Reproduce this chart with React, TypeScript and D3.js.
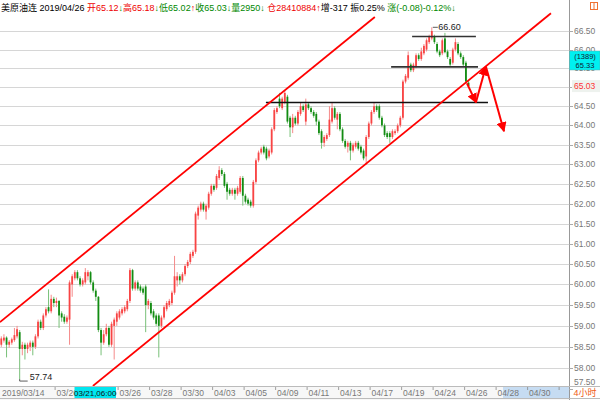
import React from 'react';
import * as d3 from 'd3';

const W = 600;
const H = 400;

// 4-hour bars: [open, high, low, close]
const ohlc: [number, number, number, number][] = [
  // 0
  [58.55, 58.75, 58.5, 58.7], [58.65, 58.8, 58.6, 58.72], [58.72, 58.75, 58.25, 58.55], [58.55, 58.66, 58.48, 58.62], [58.6, 58.72, 58.55, 58.68],
  [58.66, 58.95, 58.62, 58.78], [58.75, 59.0, 58.7, 58.92], [58.85, 58.9, 57.74, 58.45], [58.45, 58.62, 58.3, 58.55], [58.55, 58.6, 58.2, 58.45],
  // 10
  [58.45, 58.6, 58.35, 58.55], [58.5, 58.65, 58.4, 58.6], [58.6, 58.65, 58.3, 58.5], [58.5, 58.8, 58.45, 58.75], [58.75, 59.15, 58.7, 59.1],
  [59.1, 59.15, 58.9, 58.95], [58.95, 59.3, 58.9, 59.25], [59.25, 59.45, 59.2, 59.4], [59.45, 59.88, 59.3, 59.35], [59.35, 59.75, 59.3, 59.65],
  // 20
  [59.65, 59.7, 59.45, 59.55], [59.55, 59.68, 59.45, 59.6], [59.6, 59.62, 58.95, 59.25], [59.3, 59.35, 59.1, 59.2], [59.22, 59.28, 59.05, 59.1],
  [59.1, 59.25, 59.05, 59.2], [59.15, 60.1, 58.55, 60.05], [60.0, 60.25, 59.7, 60.2], [60.15, 60.35, 60.1, 60.3], [60.3, 60.35, 60.1, 60.15],
  // 30
  [60.15, 60.2, 59.95, 60.0], [60.0, 60.15, 59.95, 60.1], [60.05, 60.4, 60.0, 60.3], [60.2, 60.35, 60.1, 60.3], [60.3, 60.33, 60.0, 60.05],
  [60.05, 60.1, 59.8, 59.85], [59.85, 59.9, 59.6, 59.7], [59.7, 59.72, 58.85, 58.9], [58.9, 58.95, 58.3, 58.6], [58.6, 58.9, 58.55, 58.8],
  // 40
  [58.8, 59.05, 58.75, 58.95], [58.95, 59.0, 58.5, 58.55], [58.55, 59.1, 58.5, 59.05], [59.0, 59.2, 58.2, 59.15], [59.1, 59.35, 59.0, 59.3],
  [59.2, 59.4, 59.15, 59.35], [59.3, 59.45, 59.25, 59.4], [59.35, 59.5, 59.3, 59.45], [59.4, 59.65, 59.35, 59.6], [59.6, 60.4, 59.55, 60.35],
  // 50
  [60.35, 60.38, 59.85, 59.9], [59.9, 60.1, 59.85, 60.05], [60.05, 60.1, 59.85, 59.9], [59.95, 60.0, 59.8, 59.85], [59.9, 59.95, 59.75, 59.8],
  [59.95, 60.0, 58.85, 59.5], [59.5, 59.65, 59.4, 59.6], [59.55, 59.6, 59.25, 59.3], [59.35, 59.4, 59.15, 59.2], [59.25, 59.3, 59.0, 59.05],
  // 60
  [59.25, 59.3, 58.25, 59.0], [59.0, 59.25, 58.95, 59.2], [59.2, 59.5, 59.15, 59.45], [59.4, 59.6, 59.35, 59.55], [59.5, 59.65, 59.45, 59.6],
  [59.55, 59.85, 59.5, 59.8], [59.8, 60.7, 59.75, 60.2], [60.1, 60.3, 59.95, 60.2], [60.2, 60.25, 60.0, 60.1], [60.1, 60.3, 60.05, 60.25],
  // 70
  [60.25, 60.5, 60.2, 60.45], [60.45, 60.6, 60.4, 60.55], [60.55, 60.8, 60.5, 60.75], [60.7, 60.85, 60.65, 60.8], [60.8, 61.8, 60.75, 61.75],
  [61.7, 61.95, 61.6, 61.9], [61.85, 62.05, 61.8, 62.0], [62.0, 62.05, 61.8, 61.85], [61.8, 62.0, 61.6, 61.95], [61.9, 62.3, 61.85, 62.25],
  // 80
  [62.25, 62.5, 62.2, 62.45], [62.45, 62.5, 62.3, 62.35], [62.4, 62.75, 62.35, 62.7], [62.65, 62.95, 62.6, 62.85], [62.85, 62.9, 62.7, 62.75],
  [62.75, 62.8, 62.4, 62.45], [62.5, 62.55, 62.1, 62.3], [62.35, 62.4, 62.2, 62.25], [62.25, 62.4, 62.2, 62.35], [62.35, 62.4, 62.1, 62.25],
  // 90
  [62.25, 62.45, 62.2, 62.4], [62.3, 62.7, 62.25, 62.65], [62.65, 62.7, 61.95, 62.2], [62.2, 62.25, 62.0, 62.05], [62.1, 62.15, 61.95, 62.0],
  [62.05, 62.1, 61.9, 61.95], [61.95, 62.6, 61.9, 62.55], [62.55, 63.15, 62.5, 63.1], [63.1, 63.35, 63.05, 63.3], [63.3, 63.45, 63.25, 63.4],
  // 100
  [63.45, 63.5, 63.25, 63.3], [63.4, 63.45, 63.1, 63.15], [63.2, 63.4, 63.15, 63.35], [63.3, 63.95, 63.25, 63.9], [63.9, 64.45, 63.85, 64.4],
  [64.35, 64.5, 64.3, 64.45], [64.7, 64.85, 64.45, 64.5], [64.45, 64.75, 64.4, 64.7], [64.6, 64.9, 64.55, 64.85], [64.75, 64.8, 64.05, 64.1],
  // 110
  [64.2, 64.25, 63.7, 63.95], [63.95, 64.3, 63.8, 64.2], [64.2, 64.25, 64.0, 64.05], [64.05, 64.4, 64.0, 64.35], [64.3, 64.6, 64.25, 64.5],
  [64.5, 64.55, 64.35, 64.4], [64.1, 64.7, 64.0, 64.55], [64.55, 64.6, 64.4, 64.45], [64.45, 64.5, 64.3, 64.35], [64.35, 64.4, 64.2, 64.25],
  // 120
  [64.3, 64.35, 64.0, 64.1], [64.1, 64.15, 63.75, 63.8], [63.85, 63.9, 63.4, 63.55], [63.55, 63.75, 63.45, 63.7], [63.65, 63.8, 63.6, 63.75],
  [63.75, 64.5, 63.7, 64.15], [64.1, 64.6, 64.05, 64.45], [64.45, 64.5, 64.15, 64.2], [64.15, 64.35, 63.9, 64.3], [64.3, 64.35, 63.85, 63.9],
  // 130
  [63.9, 63.95, 63.55, 63.6], [63.6, 63.65, 63.4, 63.45], [63.45, 63.6, 63.3, 63.55], [63.55, 63.6, 63.1, 63.35], [63.35, 63.55, 63.3, 63.5],
  [63.45, 63.6, 63.4, 63.55], [63.55, 63.6, 63.35, 63.4], [63.45, 63.5, 63.25, 63.3], [63.35, 63.4, 63.1, 63.15], [63.2, 63.75, 62.98, 63.7],
  // 140
  [63.7, 64.1, 63.65, 64.05], [64.05, 64.4, 64.0, 64.35], [64.35, 64.6, 64.3, 64.5], [64.5, 64.55, 64.35, 64.4], [64.5, 64.55, 64.15, 64.2],
  [64.2, 64.25, 63.95, 64.0], [64.0, 64.05, 63.7, 63.75], [63.8, 63.85, 63.65, 63.7], [63.8, 63.85, 63.55, 63.7], [63.7, 63.9, 63.65, 63.85],
  // 150
  [63.8, 63.9, 63.75, 63.85], [63.85, 64.05, 63.8, 64.0], [64.0, 64.25, 63.95, 64.2], [64.2, 65.2, 64.15, 65.15], [65.15, 65.35, 65.1, 65.3],
  [65.25, 65.95, 65.2, 65.85], [65.6, 65.65, 65.4, 65.45], [65.45, 65.65, 65.4, 65.6], [65.55, 65.9, 65.5, 65.85], [65.85, 65.9, 65.7, 65.75],
  // 160
  [65.75, 66.05, 65.7, 65.95], [65.9, 66.15, 65.85, 66.1], [66.0, 66.3, 65.95, 66.25], [66.2, 66.4, 66.15, 66.35], [66.3, 66.6, 66.25, 66.5],
  [66.35, 66.4, 66.15, 66.2], [66.15, 66.2, 65.9, 65.95], [65.95, 66.0, 65.8, 65.85], [65.9, 66.3, 65.85, 66.25], [66.3, 66.45, 65.9, 65.93],
  // 170
  [65.95, 66.0, 65.75, 65.8], [65.75, 65.8, 65.55, 65.6], [65.65, 66.05, 65.6, 66.0], [66.0, 66.3, 65.95, 66.2], [66.15, 66.2, 65.85, 65.9],
  [65.9, 65.95, 65.75, 65.8], [65.8, 65.85, 65.55, 65.6], [65.65, 65.7, 65.1, 65.15], [65.12, 65.18, 65.02, 65.03],
];

const priceTicks = [57.5, 58, 58.5, 59, 59.5, 60, 60.5, 61, 61.5, 62, 62.5, 63, 63.5, 64, 64.5, 65, 65.5, 66, 66.5];
const firstDateLabel = '2019/03/14';
const dateTickLabels = ['03/20', '03/22', '03/26', '03/28', '03/30', '04/03', '04/05', '04/09', '04/11', '04/13', '04/17', '04/19', '04/24', '04/26', '04/28', '04/30', ''];
const crossDateLabel = '03/21,06:00';
const crossPriceLabels = ['(1389)', '65.33'];
const periodLabel = '4小时';

// hand-drawn annotations in (bar index, price)
const channelUpper = [{ i: -0.5, p: 59.09 }, { i: 142.3, p: 66.88 }];
const channelLower = [{ i: 34.9, p: 57.58 }, { i: 209.4, p: 66.98 }];
const levelLines = [
  { p: 66.35, i0: 156.5, i1: 180.8, color: '#333' },
  { p: 65.54, i0: 148.5, i1: 181.6, color: '#333' },
  { p: 64.6, i0: 100.8, i1: 185.4, color: '#111' },
];
const arrowPath = [{ i: 177.4, p: 65.1 }, { i: 180.8, p: 64.6 }, { i: 184.6, p: 65.55 }, { i: 191.5, p: 63.85 }];

// header segments
const header: { t: string; c: string }[] = [
  { t: '美原油连 2019/04/26 ', c: '#000' },
  { t: '开65.12', c: '#e00' }, { t: '↓', c: '#080' },
  { t: '高65.18', c: '#e00' }, { t: '↓', c: '#080' },
  { t: '低65.02', c: '#080' }, { t: '↑', c: '#e00' },
  { t: '收65.03', c: '#080' }, { t: '↓', c: '#080' },
  { t: '量2950', c: '#080' }, { t: '↓ ', c: '#080' },
  { t: '仓28410884', c: '#e00' }, { t: '↑', c: '#e00' },
  { t: '增-317 振0.25% ', c: '#000' },
  { t: '涨(-0.08)-0.12%', c: '#080' }, { t: '↓', c: '#080' },
];

const FONT = "'Liberation Sans', Arial, 'Noto Sans CJK SC', sans-serif";

export default function App() {
  const plotRight = 569;
  const axisTop = 386;
  const x = d3.scaleLinear().domain([0, 216]).range([1.3, 568.3]);
  const y = d3.scaleLog().domain([66.5, 58]).range([31, 368]);
  const slot = x(1) - x(0);
  const bodyW = 1.8;
  const upC = '#f84444';
  const upW = '#f58a8a';
  const dnC = '#128c12';
  const dnW = '#78c078';

  const hiIdx = d3.maxIndex(ohlc, (d) => d[1]);
  const loIdx = d3.minIndex(ohlc, (d) => d[2]);
  const last = ohlc[ohlc.length - 1];

  const ln = d3.line<{ i: number; p: number }>().x((d) => x(d.i)).y((d) => y(d.p));

  // cross boxes (cursor read-outs)
  const pBox = { x: 569.5, y: 51, w: 30.5, h: 19 };
  const dBox = { x: 74.5, w: 41.5 };

  return (
    <svg width={W} height={H} style={{ position: 'absolute', left: 0, top: 0, background: '#fff' }} fontFamily={FONT}>
      <defs>
        <clipPath id="plot">
          <rect x={0} y={0} width={plotRight} height={axisTop} />
        </clipPath>
        <marker id="ah" viewBox="0 0 10 10" refX="9" refY="5" markerWidth="5" markerHeight="5" orient="auto" markerUnits="strokeWidth">
          <path d="M0,0 L10,5 L0,10 z" fill="#f00" />
        </marker>
      </defs>
      <rect x={0} y={0} width={W} height={H} fill="#fff" />
      {/* grid */}
      <g clipPath="url(#plot)">
        {priceTicks.map((t) => (
          <line key={t} x1={0} x2={plotRight} y1={Math.round(y(t)) + 0.5} y2={Math.round(y(t)) + 0.5} stroke="#d6d6d6" strokeWidth={1} />
        ))}
      </g>
      {/* candles */}
      <g clipPath="url(#plot)">
        {ohlc.map((d, i) => {
          const [o, h, l, c] = d;
          const up = c >= o;
          const col = up ? upC : dnC;
          const cx = x(i);
          const yTop = y(Math.max(o, c));
          const yBot = y(Math.min(o, c));
          return (
            <g key={i}>
              <line x1={cx} x2={cx} y1={y(h)} y2={y(l)} stroke={up ? upW : dnW} strokeWidth={1} />
              <rect x={cx - bodyW / 2} y={yTop} width={bodyW} height={Math.max(0.8, yBot - yTop)} fill={col} />
            </g>
          );
        })}
      </g>
      {/* level lines */}
      {levelLines.map((L, k) => (
        <line key={k} x1={x(L.i0)} x2={x(L.i1)} y1={y(L.p)} y2={y(L.p)} stroke={L.color} strokeWidth={1.6} />
      ))}
      {/* channel lines */}
      <g clipPath="url(#plot)">
        <path d={ln(channelUpper) || ''} stroke="#f00" strokeWidth={1.8} fill="none" />
        <path d={ln(channelLower) || ''} stroke="#f00" strokeWidth={1.8} fill="none" />
      </g>
      {/* arrows */}
      {arrowPath.slice(1).map((p, k) => (
        <line key={k} x1={x(arrowPath[k].i)} y1={y(arrowPath[k].p)} x2={x(p.i)} y2={y(p.p)} stroke="#f00" strokeWidth={2} markerEnd="url(#ah)" />
      ))}
      {/* high / low labels */}
      <line x1={x(hiIdx) + 1} x2={x(hiIdx) + 6} y1={y(ohlc[hiIdx][1])} y2={y(ohlc[hiIdx][1])} stroke="#333" strokeWidth={0.8} />
      <text x={x(hiIdx) + 6.5} y={y(ohlc[hiIdx][1]) + 3} fontSize={9} fill="#222">{ohlc[hiIdx][1].toFixed(2)}</text>
      <path d={`M${x(loIdx)},${y(ohlc[loIdx][2])} V${y(ohlc[loIdx][2]) + 2} H${x(loIdx) + 8}`} stroke="#333" strokeWidth={0.8} fill="none" />
      <text x={x(loIdx) + 10} y={y(ohlc[loIdx][2]) + 1} fontSize={9} fill="#222">{ohlc[loIdx][2].toFixed(2)}</text>

      {/* right axis */}
      <line x1={plotRight + 0.5} x2={plotRight + 0.5} y1={0} y2={H} stroke="#999" />
      {priceTicks.map((t) => {
        const yy = Math.min(y(t), 382);
        const hidden = yy - 3 > pBox.y && yy + 3 < pBox.y + pBox.h;
        return (
          <g key={t}>
            <line x1={plotRight} x2={plotRight + 4} y1={Math.round(y(t)) + 0.5} y2={Math.round(y(t)) + 0.5} stroke="#aaa" />
            {!hidden && <text x={574} y={yy + 3} fontSize={8.5} fill="#777">{t.toFixed(2)}</text>}
          </g>
        );
      })}
      {/* last price */}
      <rect x={572} y={y(last[3]) - 6} width={28} height={12} fill="#eef2ee" />
      <text x={574} y={y(last[3]) + 3} fontSize={8.5} fill="#f33">{last[3].toFixed(2)}</text>
      {/* cross price box */}
      <rect x={pBox.x} y={pBox.y} width={pBox.w} height={pBox.h} fill="#00f0f0" stroke="#6aa" strokeWidth={0.5} />
      <text x={585} y={pBox.y + 7.5} fontSize={7.5} fill="#123" textAnchor="middle">{crossPriceLabels[0]}</text>
      <text x={585} y={pBox.y + 16.5} fontSize={7.5} fill="#123" textAnchor="middle">{crossPriceLabels[1]}</text>

      {/* bottom axis */}
      <rect x={0} y={axisTop} width={plotRight} height={H - axisTop} fill="#f7f7f7" />
      <rect x={503} y={axisTop + 1} width={plotRight - 503} height={11} fill="#c6dcf2" />
      <line x1={0} x2={W} y1={axisTop + 0.5} y2={axisTop + 0.5} stroke="#bbb" />
      <line x1={0} x2={W} y1={398.5} y2={398.5} stroke="#bbb" />
      <text x={2} y={396} fontSize={8.5} fill="#777">{firstDateLabel}</text>
      {dateTickLabels.map((lab, k) => {
        const tx = x(21 + 12 * k) - slot / 2;
        const covered = tx > dBox.x && tx < dBox.x + dBox.w;
        return (
          <g key={k}>
            <line x1={tx} x2={tx} y1={axisTop + 1} y2={axisTop + 4} stroke="#888" strokeWidth={0.8} />
            {!covered && <text x={tx + 1.5} y={396} fontSize={8.5} fill="#777">{lab}</text>}
          </g>
        );
      })}
      <rect x={dBox.x} y={axisTop + 1} width={dBox.w} height={11} fill="#00e6f0" />
      <text x={dBox.x + dBox.w / 2} y={396} fontSize={8} fill="#111" textAnchor="middle">{crossDateLabel}</text>
      <text x={585} y={396} fontSize={9} fill="#f05a14" textAnchor="middle">{periodLabel}</text>

      {/* header */}
      <text x={1} y={11} fontSize={9}>
        {header.map((s, k) => (
          <tspan key={k} fill={s.c}>{s.t}</tspan>
        ))}
      </text>
      <rect x={590.5} y={2.5} width={7} height={7} fill="none" stroke="#f07030" />
      <line x1={594} x2={594} y1={2.5} y2={9.5} stroke="#f07030" />
    </svg>
  );
}
